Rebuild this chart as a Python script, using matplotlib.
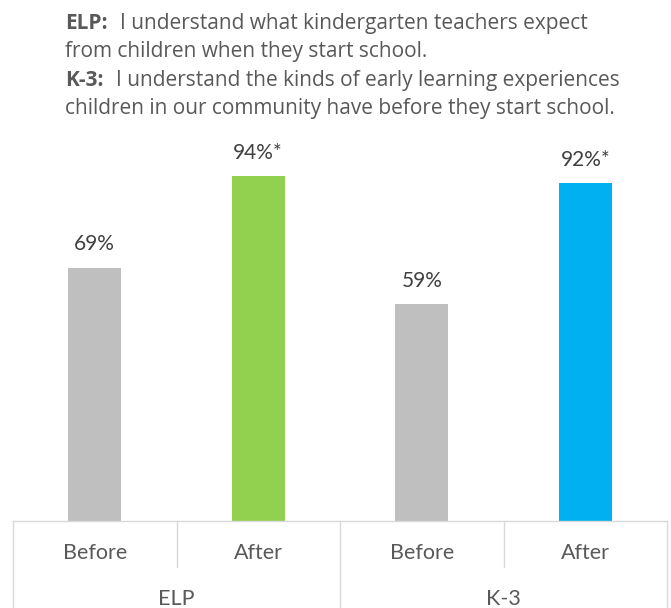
import matplotlib
matplotlib.use("Agg")
import matplotlib.pyplot as plt

plt.rcParams['font.family'] = ['Lato', 'DejaVu Sans']

# data
groups = ["ELP", "K-3"]
phases = ["Before", "After", "Before", "After"]
values = [69, 94, 59, 92]
labels = ["69%", "94%*", "59%", "92%*"]
colors = ["#BFBFBF", "#92D050", "#BFBFBF", "#00B0F0"]
title_lines = [
    ("ELP:", "I understand what kindergarten teachers expect"),
    ("", "from children when they start school."),
    ("K-3:", "I understand the kinds of early learning experiences"),
    ("", "children in our community have before they start school."),
]

TXT = "#595959"
GRID = "#D9D9D9"
W, H = 671, 608

fig = plt.figure(figsize=(W / 100, H / 100), dpi=100)
ax = fig.add_axes([13 / W, (H - 520.7) / H, 654 / W, 366.7 / H])

x = list(range(len(values)))
ax.bar(x, values, width=0.325, color=colors, zorder=2)
for xi, v, lab in zip(x, values, labels):
    ax.annotate(lab, (xi, v), xytext=(0, 12.5), textcoords="offset points",
                ha="center", va="baseline", fontsize=15, color="#404040")

ax.set_xlim(-0.5, len(values) - 0.5)
ax.set_ylim(0, 100)
for s in ["top", "right", "left"]:
    ax.spines[s].set_visible(False)
ax.spines["bottom"].set_color(GRID)
ax.spines["bottom"].set_linewidth(1.0)
ax.set_xticks([])
ax.set_yticks([])

# category table under the bars
tr = ax.get_xaxis_transform()
px = 1 / 366.7  # one pixel in axes-fraction units
bottom = -0.3
for xb in [-0.5, 1.5, 3.5]:
    ax.plot([xb, xb], [0, bottom], transform=tr, color=GRID, lw=1.0, clip_on=False)
for xb in [0.5, 2.5]:
    ax.plot([xb, xb], [0, -46 * px], transform=tr, color=GRID, lw=1.0, clip_on=False)
for xi, ph in zip(x, phases):
    ax.text(xi, -38.5 * px, ph, transform=tr, ha="center", va="baseline",
            fontsize=15.5, color=TXT)
for gi, g in enumerate(groups):
    ax.text(gi * 2 + 0.5, -84 * px, g, transform=tr, ha="center", va="baseline",
            fontsize=15.5, color=TXT)

# question text at the top
fig.canvas.draw()
renderer = fig.canvas.get_renderer()
baselines = [29, 57, 86, 114]
for (bold, rest), yb in zip(title_lines, baselines):
    yf = 1 - yb / H
    xf = 65 / W
    if bold:
        t = fig.text(xf, yf, bold, fontsize=15, fontweight="bold", color=TXT,
                     va="baseline", ha="left", family="Open Sans")
        bb = t.get_window_extent(renderer=renderer)
        xf = (bb.x1 + 12) / W
    fig.text(xf, yf, rest, fontsize=15, color=TXT, va="baseline", ha="left",
             family="Open Sans")

fig.savefig("out.png", dpi=100)
